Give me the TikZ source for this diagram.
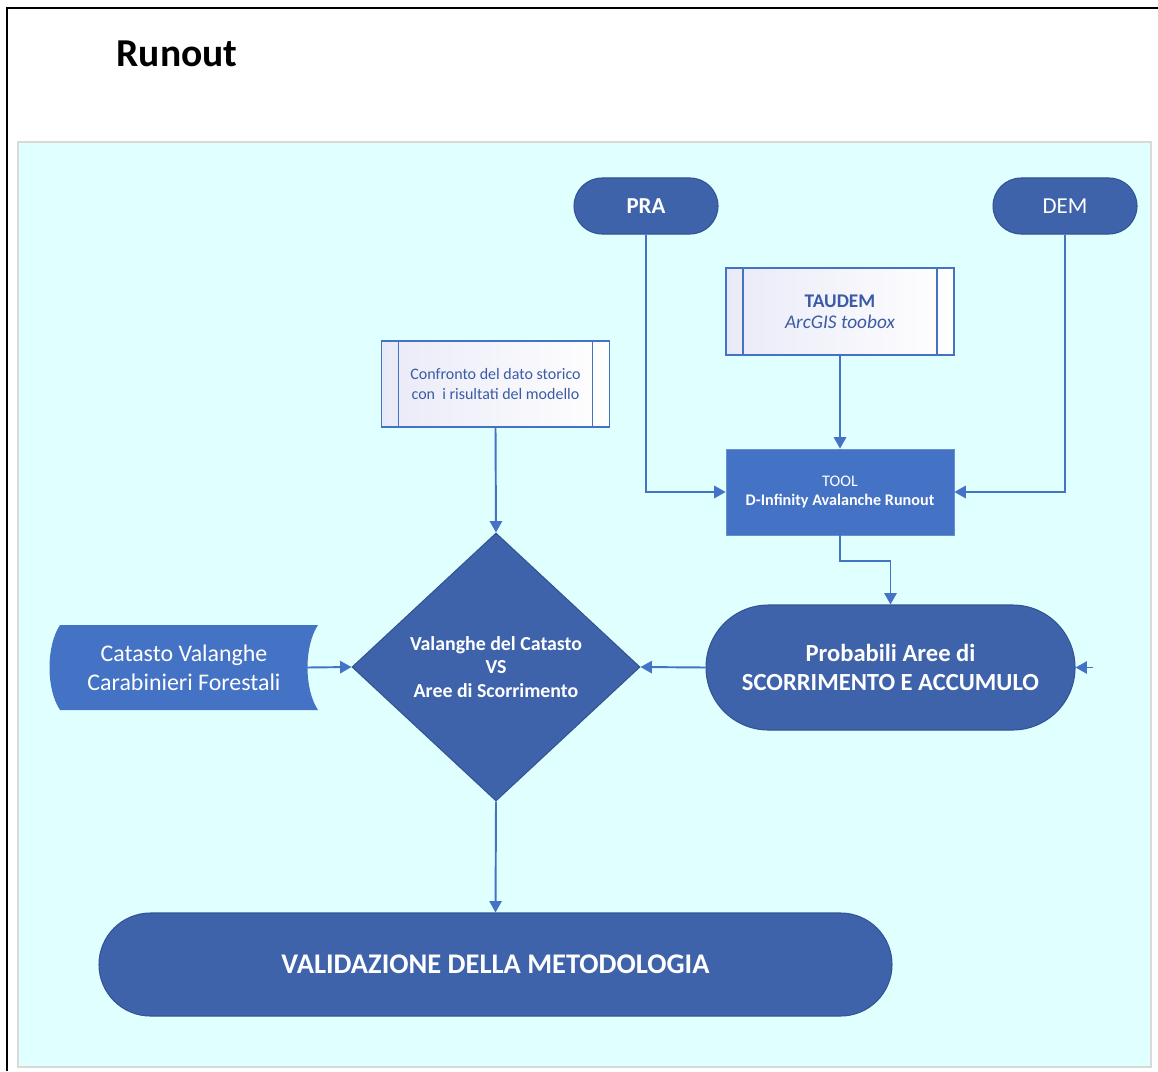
\documentclass[tikz,border=0pt]{standalone}
\usepackage{fontspec}
\setmainfont{Carlito}
\usetikzlibrary{shapes.geometric,shapes.misc,arrows.meta}

\definecolor{darkblue}{RGB}{62,99,171}
\definecolor{midblue}{RGB}{68,114,196}
\definecolor{edgeblue}{RGB}{50,84,150}
\definecolor{panelcyan}{RGB}{224,255,255}
\definecolor{textblue}{RGB}{59,91,165}
\definecolor{lavender}{RGB}{233,234,247}
\newdimen\pxu \pxu=0.02cm

\begin{document}
\begin{tikzpicture}[x=0.02cm, y=-0.02cm,
    terminal/.style={rounded rectangle, draw=edgeblue, fill=darkblue, text=white, line width=0.6pt, inner sep=0pt},
    procbox/.style={rectangle, draw=midblue, line width=1pt, left color=lavender, right color=white,
      text=textblue, align=center, minimum width=228\pxu, minimum height=86\pxu,
      path picture={
        \draw[midblue, line width=1pt] ([xshift=17\pxu]path picture bounding box.north west) -- ([xshift=17\pxu]path picture bounding box.south west);
        \draw[midblue, line width=1pt] ([xshift=-17\pxu]path picture bounding box.north east) -- ([xshift=-17\pxu]path picture bounding box.south east);
      }},
    link/.style={draw=midblue, line width=1.1pt, -{Triangle[length=6.5pt, width=7pt]}}
  ]
  \useasboundingbox (0,0) rectangle (1158,1071);
  % cornice e pannello di sfondo
  \draw[line width=1.7pt] (7,1071) -- (7,8) -- (1158,8);
  \draw[fill=panelcyan, draw=black!15, line width=0.8pt] (18,142) rectangle (1151,1067);

  \node[font=\bfseries\fontsize{22.5}{26}\selectfont] (title) at (177,54) {Runout};

  % ingressi
  \node[terminal, minimum width=144\pxu, minimum height=56\pxu, font=\bfseries\fontsize{13}{15}\selectfont] (pra) at (646,206) {PRA};
  \node[terminal, minimum width=144\pxu, minimum height=56\pxu, font=\fontsize{13}{15}\selectfont] (dem) at (1065,206) {DEM};

  \node[procbox, minimum height=87\pxu] (taudem) at (840,311.5) {{\bfseries\fontsize{11}{14.5}\selectfont TAUDEM}\\{\itshape\fontsize{11}{14.5}\selectfont ArcGIS toobox}};
  \node[procbox, font=\fontsize{9.1}{11.3}\selectfont] (conf) at (495.5,384) {Confronto del dato storico\\con\ \ i risultati del modello};

  \node[rectangle, fill=midblue, draw=midblue!80!white, minimum width=228\pxu, minimum height=86\pxu, text=white, align=center, font=\fontsize{9.2}{11.3}\selectfont] (tool) at (840,492) {TOOL\\\textbf{D-Infinity Avalanche Runout}};

  % Catasto (stored data)
  \fill[midblue] (60,625) -- (318,625) .. controls (304,646) and (304,689) .. (318,710) -- (60,710) .. controls (46,689) and (46,646) .. (60,625) -- cycle;
  \node[minimum width=268\pxu, minimum height=85\pxu, text=white, align=center, font=\fontsize{13.6}{16.4}\selectfont] (cat) at (184,667.5) {Catasto Valanghe\\Carabinieri Forestali};

  \node[diamond, fill=darkblue, draw=edgeblue, line width=0.6pt, minimum width=288\pxu, minimum height=268\pxu, inner sep=0pt, text=white, align=center, font=\bfseries\fontsize{11.3}{13.6}\selectfont] (diam) at (496,667) {Valanghe del Catasto\\VS\\Aree di Scorrimento};

  \node[terminal, minimum width=369\pxu, minimum height=125\pxu, align=center, font=\bfseries\fontsize{14}{16.4}\selectfont] (prob) at (890.5,667.5) {Probabili Aree di\\SCORRIMENTO E ACCUMULO};

  \node[terminal, minimum width=793\pxu, minimum height=103\pxu, font=\bfseries\fontsize{16.2}{19}\selectfont] (valid) at (495.5,964.5) {VALIDAZIONE DELLA METODOLOGIA};

  \coordinate (stub) at (1093,667.5);

  \draw[link] (pra.south) |- (tool.west);
  \draw[link] (dem.south) |- (tool.east);
  \draw[link] (taudem) -- (tool);
  \draw[link] (tool.south) -- ++(0,26) -| (prob.north);
  \draw[link] (conf.south) -- (diam.north);
  \draw[link] ([xshift=-11\pxu]cat.east) -- (diam.west);
  \draw[link] (prob.west) -- (diam.east);
  \draw[link] (diam.south) -- (valid.north);
  \draw[link] (stub) -- (prob.east);
\end{tikzpicture}
\end{document}
